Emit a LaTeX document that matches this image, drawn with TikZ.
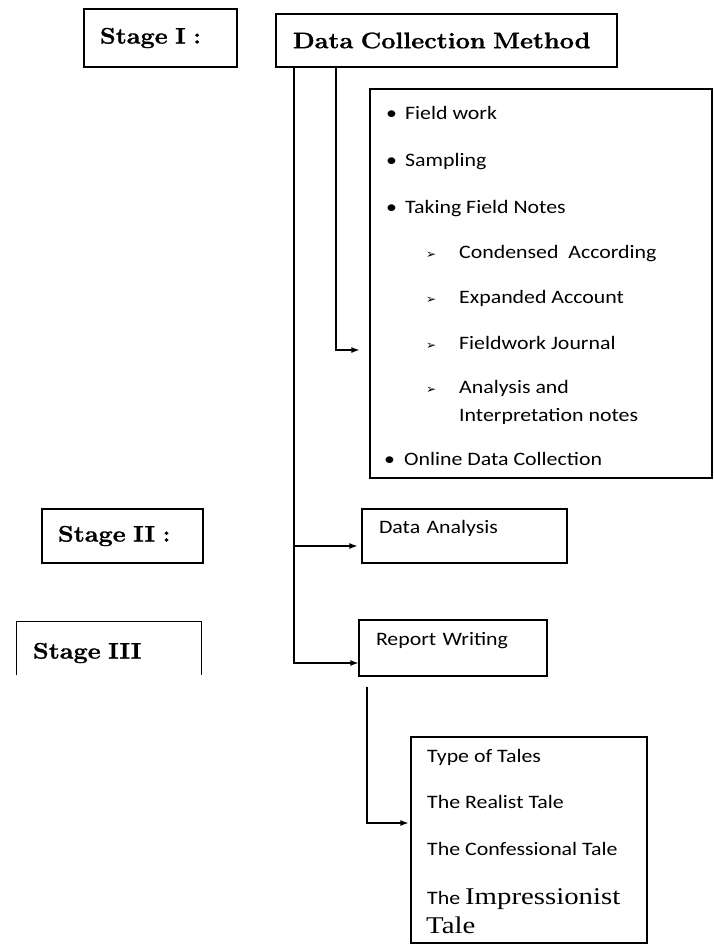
\documentclass[tikz,border=0pt]{standalone}
\usepackage{fontspec}
\usetikzlibrary{arrows.meta}
\newfontfamily\stagefont[FakeStretch=1.12, FakeBold=1.2]{Latin Modern Roman}
\newfontfamily\itemfont[FakeStretch=1.15]{Carlito}
\newfontfamily\talefont[FakeStretch=1.2]{Liberation Serif}
\newfontfamily\symfont{DejaVu Sans}
\newcommand{\subarrow}{{\symfont\fontsize{12}{12}\selectfont ➢}}

\begin{document}
\begin{tikzpicture}[x=1pt,y=-1pt]
    \tikzstyle{box}=[draw, line width=1.2pt, inner xsep=17pt, inner ysep=0pt, align=left]
    \tikzstyle{stage}=[box, inner xsep=16pt, font={\stagefont\bfseries\fontsize{22.5}{26}\selectfont}]
    \tikzstyle{task}=[box, font={\itemfont\fontsize{19}{23}\selectfont}, text height=13pt, text depth=18pt]
    \tikzstyle{entry}=[anchor=base west, inner sep=0pt, font={\itemfont\fontsize{19}{23}\selectfont}]
    \tikzstyle{link}=[line width=1.2pt, -{Latex[length=8pt,width=6pt]}]

    \useasboundingbox (0,0) rectangle (714,946);

    \node[stage, text width=121pt, minimum height=58pt] (stageone) at (160.5,38) {Stage I :};
    \node[stage, text width=307pt, inner xsep=17pt, minimum height=53pt] (method) at (446.5,40.5) {\mbox{Data Collection Method}};
    \node[stage, text width=129pt, minimum height=54pt] (stagetwo) at (122.5,536) {Stage II :};
    \node[stage, draw=none, text width=152pt, minimum height=62pt] (stagethree) at (109,653) {Stage III};

    % field work list
    \node[box, minimum width=342pt, minimum height=389pt] (fieldlist) at (541,283.5) {};
    \node[entry] (fieldwork) at (386,119) {\makebox[19pt][l]{\textbullet}Field work};
    \node[entry] (sampling) at (386,166) {\makebox[19pt][l]{\textbullet}Sampling};
    \node[entry] (fieldnotes) at (386,213) {\makebox[19pt][l]{\textbullet}Taking Field Notes};
    \node[entry] (condensed) at (426,258) {\makebox[33pt][l]{\subarrow}Condensed\ \ According};
    \node[entry] (expanded) at (426,303) {\makebox[33pt][l]{\subarrow}Expanded Account};
    \node[entry] (journal) at (426,349) {\makebox[33pt][l]{\subarrow}Fieldwork Journal};
    \node[entry] (analysisnotes) at (426,393) {\makebox[33pt][l]{\subarrow}Analysis and};
    \node[entry] (interpretation) at (459,421) {Interpretation notes};
    \node[entry] (online) at (384,465) {\makebox[20pt][l]{\textbullet}Online Data Collection};

    \node[task, text width=171pt, minimum height=54pt] (analysis) at (464.5,536) {Data Analysis};
    \node[task, text width=154pt, minimum height=56pt] (report) at (453,648) {Report Writing};

    % tales
    \node[box, minimum width=236pt, minimum height=206pt] (tales) at (529,840) {};
    \node[entry] (typetales) at (427,762) {Type of Tales};
    \node[entry] (realist) at (427,808) {The Realist Tale};
    \node[entry] (confessional) at (427,855) {The Confessional Tale};
    \node[entry] (impressionist) at (427,904) {The {\talefont\fontsize{24}{26}\selectfont Impressionist}};
    \node[entry] (taletail) at (426,933) {\talefont\fontsize{24}{26}\selectfont Tale};

    \draw[line width=1.2pt] ([yshift=10pt]stagethree.south west) |- (stagethree.north east) -- ([yshift=10pt]stagethree.south east);

    \coordinate (leftdrop) at (294,0);
    \coordinate (rightdrop) at (336,0);
    \coordinate (talesdrop) at (367,0);

    \draw[link, shorten >=10pt] (method.south -| rightdrop) |- ([yshift=-66.5pt]fieldlist.west);
    \draw[link, shorten >=4pt] (method.south -| leftdrop) |- ([yshift=-10pt]analysis.west);
    \draw[link] (method.south -| leftdrop) |- ([yshift=-15pt]report.west);
    \draw[link, shorten <=10pt, shorten >=2pt] (report.south -| talesdrop) |- ([yshift=17pt]tales.west);
\end{tikzpicture}
\end{document}
